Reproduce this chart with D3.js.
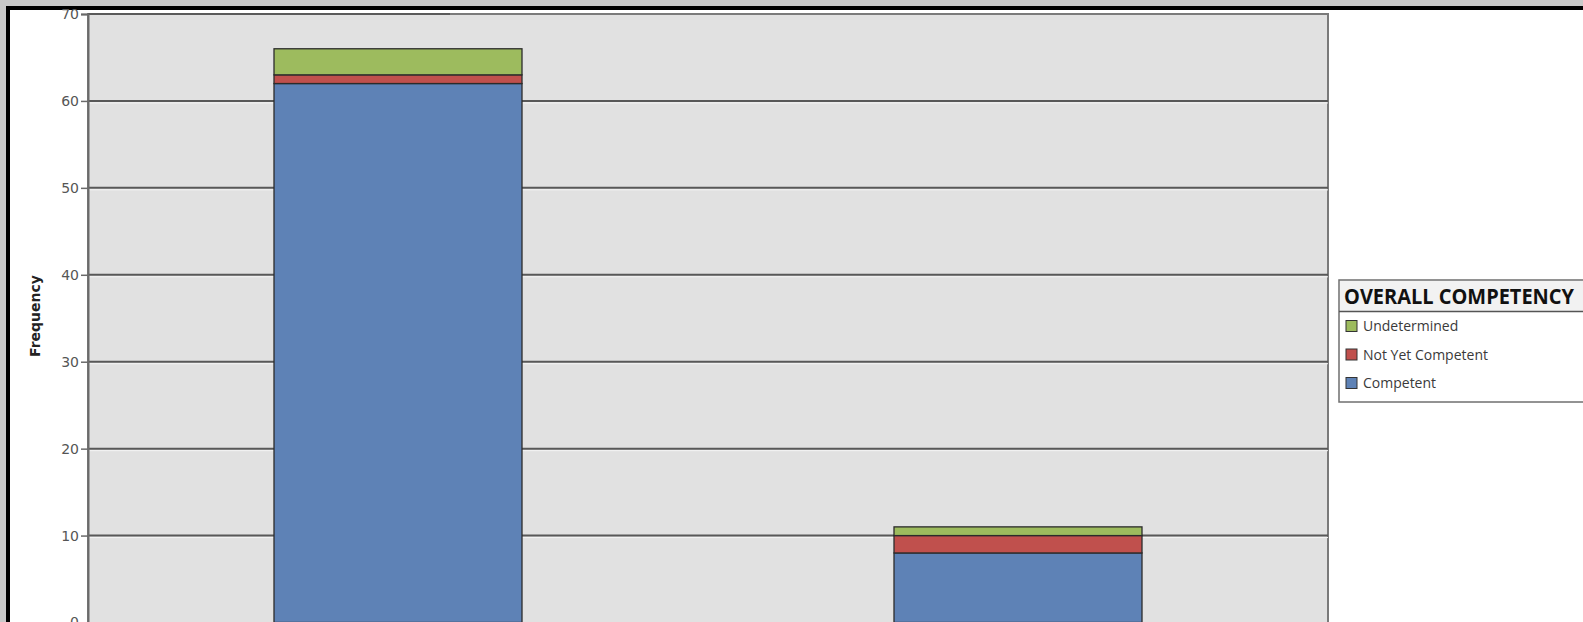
<!DOCTYPE html>
<html>
<head>
<meta charset="utf-8">
<script src="https://cdn.jsdelivr.net/npm/d3@7"></script>
<style>
  html, body { margin: 0; padding: 0; background: #fff; overflow: hidden; }
  svg { display: block; }
</style>
</head>
<body>
<svg id="chart" width="1583" height="622"></svg>
<script>
// ---- data ----
const categories = ["Group 1", "Group 2"];
const seriesNames = ["Competent", "Not Yet Competent", "Undetermined"];
const competent = [62, 8];
const notYetCompetent = [1, 2];
const undetermined = [3, 1];
const yTicks = [0, 10, 20, 30, 40, 50, 60, 70];
const legendOrder = ["Undetermined", "Not Yet Competent", "Competent"];
const legendTitle = "OVERALL COMPETENCY";
const yLabel = "Frequency";

const colors = {
  "Competent": "#5e82b6",
  "Not Yet Competent": "#c0504d",
  "Undetermined": "#9dbb5e"
};

const svg = d3.select("#chart");
const W = 1583, H = 622;

// screenshot frame
svg.append("rect").attr("x", 0).attr("y", 0).attr("width", W).attr("height", H).attr("fill", "#c9c9c9");
svg.append("rect").attr("x", 6).attr("y", 6).attr("width", W).attr("height", H).attr("fill", "#000");
svg.append("rect").attr("x", 10).attr("y", 10).attr("width", W).attr("height", H).attr("fill", "#fff");

const plot = { left: 88, right: 1328, top: 14, bottom: 622.5 };

const y = d3.scaleLinear().domain([0, 70]).range([plot.bottom, plot.top]);
const x = d3.scaleBand().domain(categories).range([plot.left, plot.right])
  .paddingInner(0.6).paddingOuter(0.3);

// plot background
svg.append("rect")
  .attr("x", plot.left).attr("y", plot.top)
  .attr("width", plot.right - plot.left).attr("height", H - plot.top + 5)
  .attr("fill", "#e1e1e1").attr("stroke", "#7a7a7a").attr("stroke-width", 2);

// partial dark top line
svg.append("line").attr("x1", plot.left).attr("x2", 450)
  .attr("y1", y(70)).attr("y2", y(70)).attr("stroke", "#5a5a5a").attr("stroke-width", 2);

// gridlines
const gridTicks = yTicks.filter(t => t > 0 && t < 70);
svg.append("g").selectAll("line.hl").data(gridTicks).join("line")
  .attr("x1", plot.left).attr("x2", plot.right)
  .attr("y1", d => y(d) + 2).attr("y2", d => y(d) + 2)
  .attr("stroke", "#f4f4f4").attr("stroke-width", 1);
svg.append("g").selectAll("line.gl").data(gridTicks).join("line")
  .attr("x1", plot.left).attr("x2", plot.right)
  .attr("y1", d => y(d)).attr("y2", d => y(d))
  .attr("stroke", "#585858").attr("stroke-width", 2);

// y axis
const yAxis = d3.axisLeft(y).tickValues(yTicks).tickSize(7).tickPadding(2).tickFormat(d3.format("d"));
const ga = svg.append("g").attr("transform", `translate(${plot.left},0)`).call(yAxis);
ga.select(".domain").attr("stroke", "#6a6a6a").attr("stroke-width", 2);
ga.selectAll(".tick line").attr("stroke", "#6a6a6a").attr("stroke-width", 1.5);
ga.selectAll(".tick text")
  .attr("font-family", "'DejaVu Sans', Verdana, sans-serif")
  .attr("font-size", 14).attr("fill", "#555");

// y label
svg.append("text")
  .attr("transform", `translate(35,316) rotate(-90)`)
  .attr("text-anchor", "middle").attr("dominant-baseline", "central")
  .attr("font-family", "'DejaVu Sans', sans-serif").attr("font-weight", "bold")
  .attr("font-size", 14).attr("fill", "#222").text(yLabel);

// stacked bars
const rows = categories.map((c, i) => ({
  category: c,
  "Competent": competent[i],
  "Not Yet Competent": notYetCompetent[i],
  "Undetermined": undetermined[i]
}));
const stacked = d3.stack().keys(seriesNames)(rows);

svg.append("g").selectAll("g").data(stacked).join("g")
  .attr("fill", d => colors[d.key])
  .selectAll("rect").data(d => d).join("rect")
  .attr("x", d => x(d.data.category))
  .attr("width", x.bandwidth())
  .attr("y", d => y(d[1]))
  .attr("height", d => y(d[0]) - y(d[1]))
  .attr("stroke", "#2b2b2b").attr("stroke-width", 1.3);

// legend
const lg = svg.append("g");
lg.append("rect").attr("x", 1339).attr("y", 280).attr("width", 270).attr("height", 122)
  .attr("fill", "#fff").attr("stroke", "#6f6f6f").attr("stroke-width", 1.5);
lg.append("rect").attr("x", 1340).attr("y", 281).attr("width", 270).attr("height", 30)
  .attr("fill", "#f2f2f2");
lg.append("line").attr("x1", 1339).attr("x2", W).attr("y1", 311.5).attr("y2", 311.5)
  .attr("stroke", "#555").attr("stroke-width", 1.5);
lg.append("text").attr("x", 1344).attr("y", 304)
  .attr("font-family", "'Open Sans', sans-serif").attr("font-weight", "bold")
  .attr("font-size", 21).attr("fill", "#111")
  .attr("textLength", 230).attr("lengthAdjust", "spacingAndGlyphs")
  .text(legendTitle);

const itemY = d3.scalePoint().domain(legendOrder).range([326, 383]);
const items = lg.selectAll("g.item").data(legendOrder).join("g").attr("class", "item");
items.append("rect")
  .attr("x", 1346).attr("y", d => itemY(d) - 5.5)
  .attr("width", 11).attr("height", 11)
  .attr("fill", d => colors[d]).attr("stroke", "#333").attr("stroke-width", 1);
items.append("text")
  .attr("x", 1363).attr("y", d => itemY(d) + 5)
  .attr("font-family", "'Open Sans', sans-serif").attr("font-size", 14)
  .attr("fill", "#3a3a3a").text(d => d);
</script>
</body>
</html>
